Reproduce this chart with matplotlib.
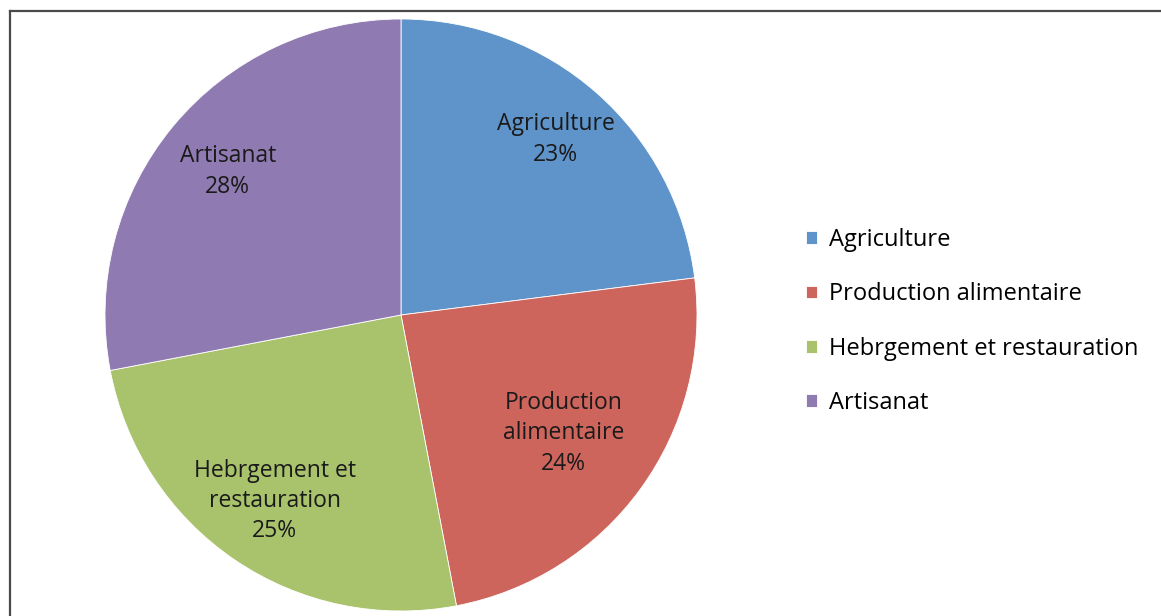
import matplotlib
matplotlib.use("Agg")
import matplotlib.pyplot as plt
from matplotlib.lines import Line2D
import numpy as np

# categories and shares (percent)
labels = ["Agriculture", "Production alimentaire", "Hebrgement et restauration", "Artisanat"]
slice_text = ["Agriculture", "Production\nalimentaire", "Hebrgement et\nrestauration", "Artisanat"]
values = [23, 24, 25, 28]
colors = ["#5e94ca", "#cd655c", "#a9c26c", "#8f7bb1"]

plt.rcParams['font.family'] = ['Open Sans', 'DejaVu Sans']

W, H = 1161, 616
fig = plt.figure(figsize=(W / 100, H / 100), dpi=100)

# pie axes: centre (401, 315) px, radius 296 px
cx, cy, r = 401, 315, 296
ax = fig.add_axes([(cx - r) / W, (H - cy - r) / H, 2 * r / W, 2 * r / H])
wedges, _ = ax.pie(values, colors=colors, startangle=90, counterclock=False,
                   wedgeprops=dict(edgecolor="white", linewidth=0.6))
ax.set_xlim(-1, 1)
ax.set_ylim(-1, 1)
ax.set_aspect("equal")
ax.axis("off")

# labels inside slices
dist = [0.79, 0.68, 0.76, 0.76]
for w, txt, v, d in zip(wedges, slice_text, values, dist):
    ang = np.deg2rad((w.theta1 + w.theta2) / 2)
    ax.text(d * np.cos(ang), d * np.sin(ang), f"{txt}\n{v}%", ha="center", va="center",
            fontsize=16.5, color="#1a1a1a", linespacing=1.35)

# legend
fig.legend(wedges, labels, loc="center left", bbox_to_anchor=(806 / W, (H - 321.5) / H),
           frameon=False, fontsize=17, handlelength=0.46, handleheight=0.46,
           handletextpad=0.5, labelspacing=1.28, borderaxespad=0, borderpad=0)

# partial frame (top and left edges)
fig.add_artist(Line2D([9.5 / W, 1.0], [1 - 10.5 / H, 1 - 10.5 / H], transform=fig.transFigure,
                      color="#4a4a4a", linewidth=1.6))
fig.add_artist(Line2D([9.5 / W, 9.5 / W], [0, 1 - 10.5 / H], transform=fig.transFigure,
                      color="#4a4a4a", linewidth=1.6))

fig.savefig("out.png", dpi=100)
